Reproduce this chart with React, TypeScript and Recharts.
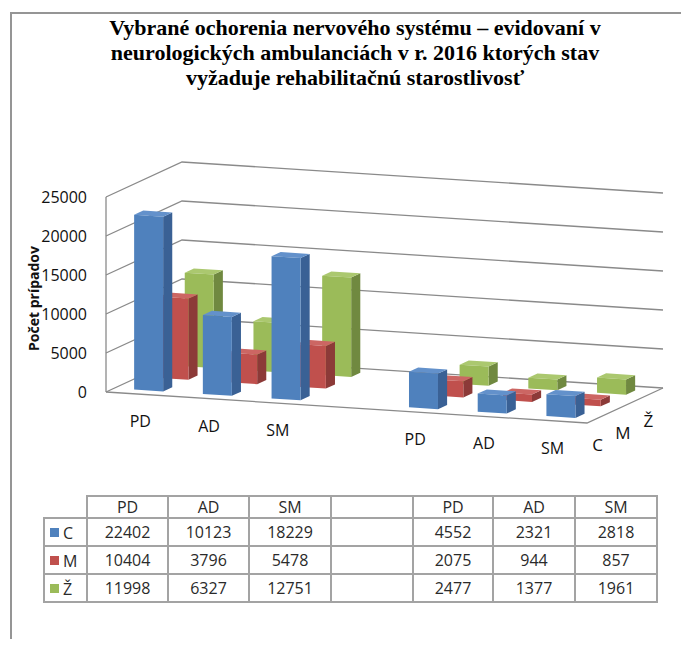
import React from "react";
import { BarChart, Bar, XAxis, YAxis, CartesianGrid } from "recharts";

const categories = ["PD", "AD", "SM", "", "PD", "AD", "SM"];
const valuesC = [22402, 10123, 18229, null, 4552, 2321, 2818];
const valuesM = [10404, 3796, 5478, null, 2075, 944, 857];
const valuesZ = [11998, 6327, 12751, null, 2477, 1377, 1961];
const seriesNames = ["C", "M", "Ž"];
const yTicks = [0, 5000, 10000, 15000, 20000, 25000];

const data = categories.map((cat, i) => ({
  slot: i,
  cat,
  C: valuesC[i],
  M: valuesM[i],
  Z: valuesZ[i],
}));

// front plane of the 3D box, page pixels
const W = 689;
const H = 647;
const PLOT = { left: 106, right: 587, top: 197, bottom: 392 };
const Y_AXIS_W = 60;
const X_AXIS_H = 40;
const TILT = 31 / 481; // floor edge drops towards the right
const DEPTH_X = 76;
const DEPTH_Y = -35;
const GRID = "#8a8a8a";
const FONT = "'Open Sans', sans-serif";

// slabs along the depth axis, one per series (0 = front edge, 1 = back wall)
const slabs = [
  [0.107, 0.227],
  [0.44, 0.56],
  [0.773, 0.893],
];

const palette = [
  { front: "#4F81BD", side: "#3A6195", top: "#6391CB" },
  { front: "#C0504D", side: "#8C3A38", top: "#CC6663" },
  { front: "#9BBB59", side: "#708940", top: "#ABC86F" },
];

function project(x: number, y: number, d: number): [number, number] {
  return [x + d * DEPTH_X, y + TILT * (x - PLOT.left) + d * DEPTH_Y];
}

const pts = (arr: [number, number][]) => arr.map(([a, b]) => `${a},${b}`).join(" ");

function boxShape(series: number) {
  const [d0, d1] = slabs[series];
  const c = palette[series];
  return (props: any) => {
    const { x, y, width, height } = props;
    if (height == null || !width || height <= 0) return <g />;
    const l = x;
    const r = x + width;
    const top = y;
    const bot = y + height;
    const front = [project(l, bot, d0), project(r, bot, d0), project(r, top, d0), project(l, top, d0)];
    const lid = [project(l, top, d0), project(r, top, d0), project(r, top, d1), project(l, top, d1)];
    const side = [project(r, bot, d0), project(r, top, d0), project(r, top, d1), project(r, bot, d1)];
    return (
      <g>
        <polygon points={pts(side)} fill={c.side} />
        <polygon points={pts(lid)} fill={c.top} />
        <polygon points={pts(front)} fill={c.front} />
      </g>
    );
  };
}

// each horizontal grid line becomes a left-wall diagonal plus a back-wall line
function WallLine(props: any) {
  const y = props.y1;
  const a = project(PLOT.left, y, 0);
  const b = project(PLOT.left, y, 1);
  const c = project(PLOT.right, y, 1);
  const isFloor = Math.abs(y - PLOT.bottom) < 0.5;
  return (
    <g>
      <polyline points={pts([a, b, c])} fill="none" stroke={GRID} strokeWidth={1.3} />
      {isFloor && (
        <g>
          <line x1={PLOT.left} y1={PLOT.top} x2={PLOT.left} y2={PLOT.bottom} stroke={GRID} strokeWidth={1.3} />
          <polyline
            points={pts([project(PLOT.left, y, 0), project(PLOT.right, y, 0), project(PLOT.right, y, 1)])}
            fill="none"
            stroke={GRID}
            strokeWidth={1.3}
          />
          {seriesNames.map((name, i) => {
            const [sx, sy] = project(PLOT.right, y, (slabs[i][0] + slabs[i][1]) / 2);
            return (
              <text
                key={name}
                x={sx - 2}
                y={sy + 27}
                textAnchor="middle"
                dominantBaseline="central"
                fontFamily={FONT}
                fontSize={17}
                fill="#111"
              >
                {name}
              </text>
            );
          })}
        </g>
      )}
    </g>
  );
}

function CategoryTick(props: any) {
  const { x, payload } = props;
  const [, fy] = project(x, PLOT.bottom, 0);
  return (
    <text x={x} y={fy + 27} textAnchor="middle" dominantBaseline="central" fontFamily={FONT} fontSize={16} fill="#111">
      {categories[payload.value]}
    </text>
  );
}

function ValueTick(props: any) {
  const { y, payload } = props;
  return (
    <text x={PLOT.left - 19} y={y} textAnchor="end" dominantBaseline="central" fontFamily={FONT} fontSize={16} fill="#111">
      {payload.value}
    </text>
  );
}

function ValueTitle() {
  const cy = (PLOT.top + PLOT.bottom) / 2 + 4;
  return (
    <text
      x={33}
      y={cy}
      transform={`rotate(-90, 33, ${cy})`}
      textAnchor="middle"
      dominantBaseline="central"
      fontFamily={FONT}
      fontWeight="bold"
      fontSize={14}
      fill="#111"
    >
      Počet prípadov
    </text>
  );
}

const colX = [43, 86, 167, 248, 330, 412, 492, 574, 656];
const rowH = [22, 28, 28, 28];
const rows = [valuesC, valuesM, valuesZ];
const cellBorder = "2px solid #a3a3a3";

function DataTable() {
  return (
    <table
      style={{
        position: "absolute",
        left: colX[0],
        top: 495,
        borderCollapse: "collapse",
        tableLayout: "fixed",
        width: colX[colX.length - 1] - colX[0],
        fontFamily: FONT,
        fontSize: 16,
        color: "#2a2a2a",
      }}
    >
      <colgroup>
        {colX.slice(1).map((x, i) => (
          <col key={i} style={{ width: x - colX[i] }} />
        ))}
      </colgroup>
      <tbody>
        <tr style={{ height: rowH[0] }}>
          <td style={{ borderRight: cellBorder, borderBottom: cellBorder, padding: 0 }} />
          {categories.map((cat, i) => (
            <td key={i} style={{ border: cellBorder, textAlign: "center", padding: 0, lineHeight: "18px" }}>
              {cat}
            </td>
          ))}
        </tr>
        {rows.map((vals, r) => (
          <tr key={r} style={{ height: rowH[r + 1] }}>
            <td style={{ border: cellBorder, padding: "0 0 0 5px", whiteSpace: "nowrap" }}>
              <span
                style={{
                  display: "inline-block",
                  width: 9,
                  height: 9,
                  background: palette[r].front,
                  marginRight: 4,
                  verticalAlign: "middle",
                }}
              />
              <span style={{ verticalAlign: "middle" }}>{seriesNames[r]}</span>
            </td>
            {vals.map((v, i) => (
              <td key={i} style={{ border: cellBorder, textAlign: "center", padding: 0 }}>
                {v ?? ""}
              </td>
            ))}
          </tr>
        ))}
      </tbody>
    </table>
  );
}

export default function App() {
  return (
    <div style={{ position: "relative", width: W, height: H, margin: -8, overflow: "hidden", background: "#fff" }}>
      <div
        style={{
          position: "absolute",
          left: 10,
          top: 12,
          width: W,
          height: H,
          borderLeft: "2px solid #959595",
          borderTop: "2px solid #959595",
        }}
      />
      <div style={{ position: "absolute", left: 0, top: 0 }}>
        <BarChart
          width={W}
          height={H}
          data={data}
          barSize={29}
          margin={{
            top: PLOT.top,
            right: W - PLOT.right,
            bottom: H - PLOT.bottom - X_AXIS_H,
            left: PLOT.left - Y_AXIS_W,
          }}
        >
          <CartesianGrid vertical={false} horizontal={(p: any) => <WallLine key={p.key} {...p} />} />
          <XAxis xAxisId="c" dataKey="slot" height={X_AXIS_H} axisLine={false} tickLine={false} tick={<CategoryTick />} interval={0} />
          <XAxis xAxisId="m" dataKey="slot" hide />
          <XAxis xAxisId="z" dataKey="slot" hide />
          <YAxis
            width={Y_AXIS_W}
            domain={[0, 25000]}
            ticks={yTicks}
            axisLine={false}
            tickLine={false}
            tick={<ValueTick />}
            label={<ValueTitle />}
          />
          <Bar xAxisId="z" dataKey="Z" name="Ž" shape={boxShape(2)} isAnimationActive={false} />
          <Bar xAxisId="m" dataKey="M" name="M" shape={boxShape(1)} isAnimationActive={false} />
          <Bar xAxisId="c" dataKey="C" name="C" shape={boxShape(0)} isAnimationActive={false} />
        </BarChart>
      </div>
      <div
        style={{
          position: "absolute",
          left: 0,
          top: 15,
          width: 710,
          textAlign: "center",
          fontFamily: "'Liberation Serif', serif",
          fontWeight: "bold",
          fontSize: 22,
          lineHeight: "25px",
          color: "#000",
        }}
      >
        Vybrané ochorenia nervového systému – evidovaní v<br />
        neurologických ambulanciách v r. 2016 ktorých stav<br />
        vyžaduje rehabilitačnú starostlivosť
      </div>
      <DataTable />
    </div>
  );
}
